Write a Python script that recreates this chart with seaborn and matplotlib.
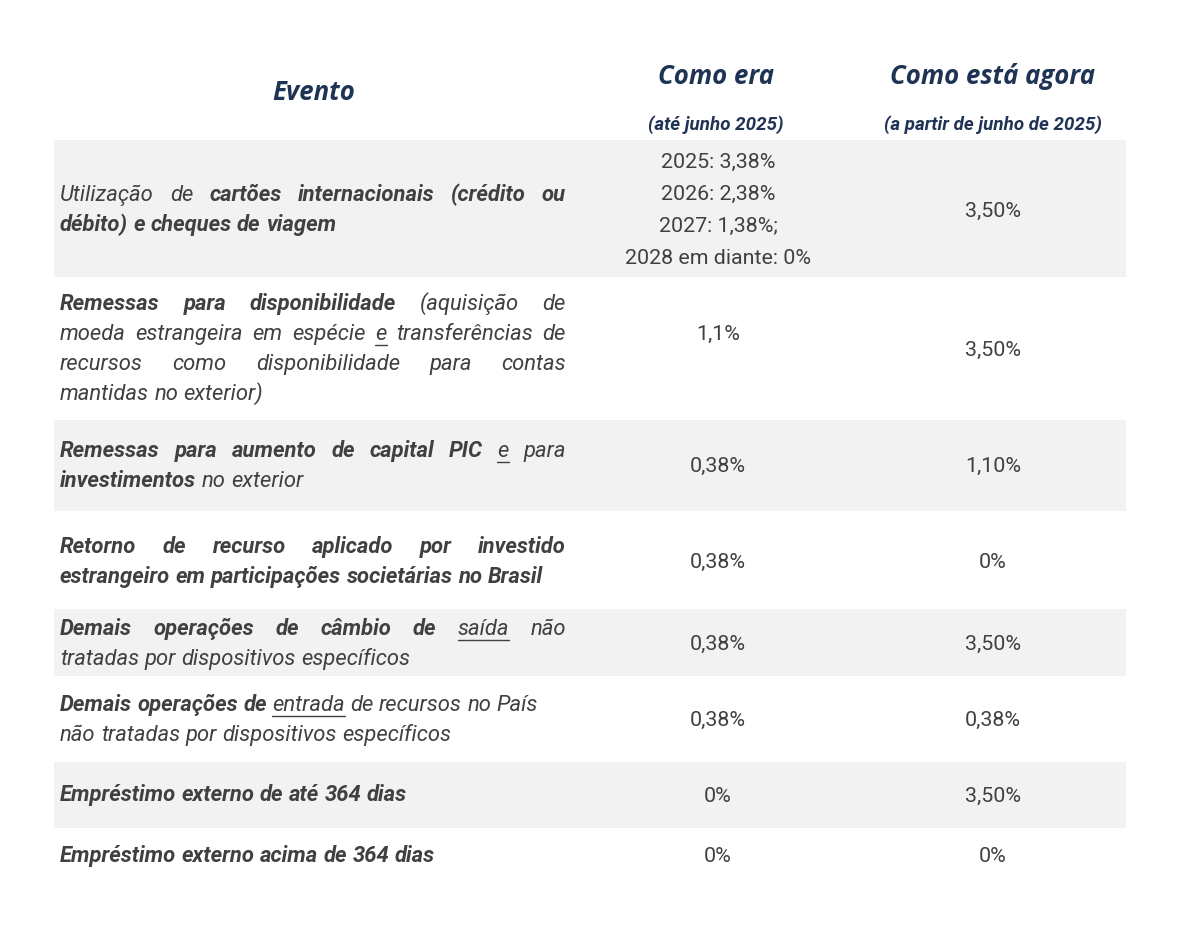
import matplotlib.pyplot as plt
import seaborn as sns

# rows of the table
eventos = [
    [[("Utilização de  ", "n"), ("cartões internacionais (crédito ou", "b")],
     [("débito) e cheques de viagem", "b")]],
    [[("Remessas para disponibilidade", "b"), (" (aquisição de", "n")],
     [("moeda estrangeira em espécie ", "n"), ("e", "u"), (" transferências de", "n")],
     [("recursos como disponibilidade para contas", "n")],
     [("mantidas no exterior)", "n")]],
    [[("Remessas para aumento de capital PIC ", "b"), ("e", "u"), (" para", "n")],
     [("investimentos", "b"), (" no exterior", "n")]],
    [[("Retorno de recurso aplicado por investido", "b")],
     [("estrangeiro em participações societárias no Brasil", "b")]],
    [[("Demais operações de câmbio de ", "b"), ("saída", "u"), (" não", "n")],
     [("tratadas por dispositivos específicos", "n")]],
    [[("Demais operações de ", "b"), ("entrada", "u"), (" de recursos no País", "n")],
     [("não tratadas por dispositivos específicos", "n")]],
    [[("Empréstimo externo de até 364 dias", "b")]],
    [[("Empréstimo externo acima de 364 dias", "b")]],
]
justificar = [[True, False], [True, True, True, False], [True, False], [True, False],
              [True, False], [False, False], [False], [False]]
como_era = [["2025: 3,38%", "2026: 2,38%", "2027: 1,38%;", "2028 em diante: 0%"],
            ["1,1%"], ["0,38%"], ["0,38%"], ["0,38%"], ["0,38%"], ["0%"], ["0%"]]
como_agora = ["3,50%", "3,50%", "1,10%", "0%", "3,50%", "0,38%", "3,50%", "0%"]
cabecalhos = ["Evento", "Como era", "Como está agora"]
subcabecalhos = ["(até junho 2025)", "(a partir de junho de 2025)"]

# layout (pixels)
row_edges = [140, 277, 420, 511, 609, 676, 762, 828, 888]
event_y = [[195, 225], [304, 334, 364, 394], [451, 481], [547, 577],
           [629, 659], [705, 735], [795], [856]]
era_y = [[162, 194, 226, 258], [334], [466], [562], [644], [720], [796], [856]]
agora_y = [211, 350, 466, 562, 644, 720, 796, 856]
x0, x1 = 60, 566
cx_era, cx_agora = 718, 993
txt = "#404040"
navy = "#1f3354"
fs = 15.8
fs_val = 15.4

sns.set_theme(style="white")
plt.rcParams["font.family"] = ["Roboto", "DejaVu Sans"]

fig = plt.figure(figsize=(11.92, 9.46), dpi=100)
ax = fig.add_axes([0, 0, 1, 1])
ax.set_xlim(0, 1192)
ax.set_ylim(946, 0)
ax.axis("off")

for i in range(len(row_edges) - 1):
    if i % 2 == 0:
        ax.axhspan(row_edges[i], row_edges[i + 1], xmin=54 / 1192, xmax=1126 / 1192,
                   color="#f2f2f2", lw=0, zorder=0)

head = dict(ha="center", va="center", fontsize=18.5, fontweight="bold",
            style="italic", color=navy, family="Open Sans")
ax.text(314, 92, cabecalhos[0], **head)
ax.text(716, 76, cabecalhos[1], **head)
ax.text(993, 76, cabecalhos[2], **head)
sub = dict(ha="center", va="center", fontsize=13.5, fontweight="bold",
           style="italic", color=navy)
ax.text(716, 125, subcabecalhos[0], **sub)
ax.text(993, 125, subcabecalhos[1], **sub)

renderer = fig.canvas.get_renderer()


def largura(s, w):
    t = ax.text(0, 0, s, fontsize=fs, style="italic", fontweight=w)
    bb = t.get_window_extent(renderer)
    t.remove()
    return bb.width


esp = largura("a a", "normal") - 2 * largura("a", "normal")

for linhas, just, ys in zip(eventos, justificar, event_y):
    for segs, j, y in zip(linhas, just, ys):
        palavras = []
        for s, st in segs:
            for p in s.split():
                w = "bold" if st == "b" else "normal"
                palavras.append((p, w, st == "u", largura(p, w)))
        total = sum(p[3] for p in palavras)
        gap = (x1 - x0 - total) / (len(palavras) - 1) if j and len(palavras) > 1 else esp
        x = x0
        for p, w, u, wd in palavras:
            ax.text(x, y, p, fontsize=fs, style="italic", fontweight=w,
                    color=txt, va="center", ha="left")
            if u:
                ax.plot([x, x + wd], [y + 11, y + 11], color=txt, lw=1)
            x += wd + gap

for vals, ys in zip(como_era, era_y):
    for v, y in zip(vals, ys):
        ax.text(cx_era, y, v, fontsize=fs_val, color=txt, ha="center", va="center")
for v, y in zip(como_agora, agora_y):
    ax.text(cx_agora, y, v, fontsize=fs_val, color=txt, ha="center", va="center")

fig.savefig("out.png", dpi=100)
